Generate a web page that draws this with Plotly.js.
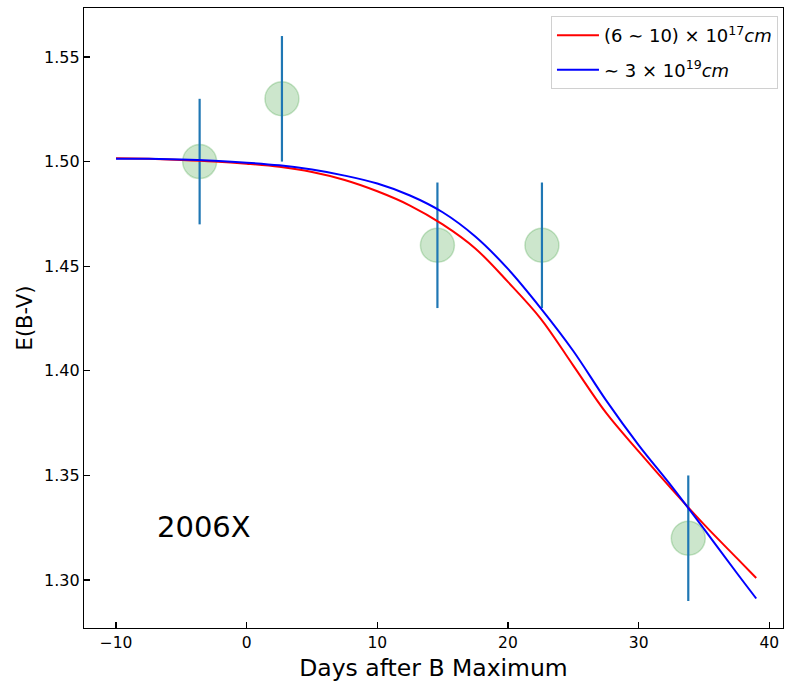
<!DOCTYPE html>
<html>
<head>
<meta charset="utf-8">
<script src="https://cdn.plot.ly/plotly-3.0.1.min.js"></script>
<style>html,body{margin:0;padding:0;background:#fff;}#chart{width:786px;height:684px;}</style>
</head>
<body>
<div id="chart"></div>
<script>
// Observed data
var obsDays = [-3.6, 2.7, 14.6, 22.6, 33.8];
var obsEbv = [1.50, 1.53, 1.46, 1.46, 1.32];
var obsErr = [0.03, 0.03, 0.03, 0.03, 0.03];

// Model curves
var modelDays = [-10, -7.5, -5, -2.5, 0, 2.5, 5, 7.5, 10, 12.5, 15, 17.5, 20, 22.5, 25, 27.5, 30, 32.5, 35, 37.5, 39];
var redEbv  = [1.5016, 1.5013, 1.5008, 1.5001, 1.4990, 1.4975, 1.4950, 1.4912, 1.4858, 1.4790, 1.4700, 1.4585, 1.4425, 1.4250, 1.4025, 1.3800, 1.3615, 1.3437, 1.3266, 1.3106, 1.3010];
var blueEbv = [1.5014, 1.5013, 1.5010, 1.5004, 1.4995, 1.4982, 1.4962, 1.4933, 1.4895, 1.4838, 1.4758, 1.4642, 1.4487, 1.4300, 1.4095, 1.3860, 1.3645, 1.3450, 1.3245, 1.3035, 1.2912];

var redName = '(6 \u223C 10) \u00D7 10<sup>17</sup><i>cm</i>';
var blueName = '\u223C 3 \u00D7 10<sup>19</sup><i>cm</i>';
var sampleLabel = '2006X';

var traces = [
  {
    x: obsDays, y: obsEbv, type: 'scatter', mode: 'markers', showlegend: false, hoverinfo: 'skip',
    marker: {size: 34, color: 'rgba(0,128,0,0.2)', line: {color: 'rgba(0,128,0,0.2)', width: 1.5}}
  },
  {
    x: obsDays, y: obsEbv, type: 'scatter', mode: 'markers', showlegend: false, hoverinfo: 'skip',
    marker: {size: 1, color: 'rgba(0,0,0,0)'},
    error_y: {type: 'data', array: obsErr, visible: true, color: '#1f77b4', thickness: 2.2, width: 0}
  },
  {
    x: modelDays, y: redEbv, type: 'scatter', mode: 'lines', name: redName, legendgroup: 'a',
    line: {color: '#ff0000', width: 2, shape: 'spline', smoothing: 1}
  },
  {
    x: modelDays, y: blueEbv, type: 'scatter', mode: 'lines', name: blueName, legendgroup: 'b',
    line: {color: '#0000ff', width: 2, shape: 'spline', smoothing: 1}
  }
];

var fontFam = 'DejaVu Sans, sans-serif';
var layout = {
  width: 786, height: 684,
  margin: {l: 84, r: 3, t: 8, b: 56, pad: 0},
  paper_bgcolor: '#ffffff', plot_bgcolor: '#ffffff',
  font: {family: fontFam, color: '#000000', size: 15},
  showlegend: true,
  legend: {
    x: 0.9928, y: 0.987, xanchor: 'right', yanchor: 'top',
    bordercolor: '#d0d0d0', borderwidth: 1, bgcolor: 'rgba(255,255,255,0.8)',
    font: {family: fontFam, size: 18, color: '#000000'},
    tracegroupgap: 8, itemwidth: 42
  },
  xaxis: {
    range: [-12.45, 41.05], tickvals: [-10, 0, 10, 20, 30, 40],
    ticktext: ['\u221210', '0', '10', '20', '30', '40'],
    ticks: 'inside', ticklen: 6, tickwidth: 1.2, tickcolor: '#000',
    showline: true, linecolor: '#000', linewidth: 1.2, mirror: true,
    showgrid: false, zeroline: false,
    tickfont: {size: 15.5, family: fontFam},
    title: {text: 'Days after B Maximum', font: {size: 23.5, family: fontFam}, standoff: 8}
  },
  yaxis: {
    range: [1.2771, 1.5734], tickvals: [1.30, 1.35, 1.40, 1.45, 1.50, 1.55],
    ticktext: ['1.30', '1.35', '1.40', '1.45', '1.50', '1.55'],
    ticks: 'inside', ticklen: 6, tickwidth: 1.2, tickcolor: '#000',
    showline: true, linecolor: '#000', linewidth: 1.2, mirror: true,
    showgrid: false, zeroline: false,
    tickfont: {size: 16, family: fontFam},
    title: {text: 'E(B-V)', font: {size: 21, family: fontFam}, standoff: 5}
  },
  annotations: [
    {x: -7, y: 1.3162, xref: 'x', yref: 'y', text: sampleLabel, showarrow: false,
     xanchor: 'left', yanchor: 'bottom', font: {size: 29, family: fontFam, color: '#000'}}
  ]
};

Plotly.newPlot('chart', traces, layout, {displayModeBar: false, staticPlot: true});
</script>
</body>
</html>
